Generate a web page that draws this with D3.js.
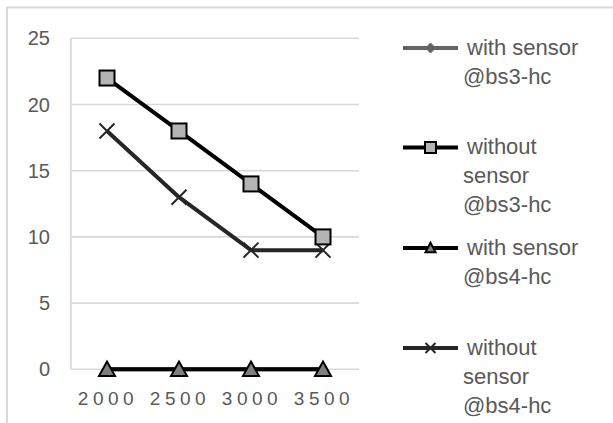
<!DOCTYPE html>
<html>
<head>
<meta charset="utf-8">
<script src="https://cdn.jsdelivr.net/npm/d3@7"></script>
<style>
  html, body { margin: 0; padding: 0; background: #fff; }
  svg { display: block; font-family: "Liberation Sans", Arial, sans-serif; }
</style>
</head>
<body>
<svg id="chart" width="613" height="423"></svg>
<script>
// Categories and series values
const categories = ["2000", "2500", "3000", "3500"];
const withSensorBs3 = [0, 0, 0, 0];
const withoutSensorBs3 = [22, 18, 14, 10];
const withSensorBs4 = [0, 0, 0, 0];
const withoutSensorBs4 = [18, 13, 9, 9];
const yTicks = [0, 5, 10, 15, 20, 25];

const seriesNames = [
  ["with sensor", "@bs3-hc"],
  ["without", "sensor", "@bs3-hc"],
  ["with sensor", "@bs4-hc"],
  ["without", "sensor", "@bs4-hc"]
];

const series = [
  { lines: seriesNames[0], values: withSensorBs3, color: "#636363", width: 4, marker: "diamond", fill: "#636363" },
  { lines: seriesNames[1], values: withoutSensorBs3, color: "#000000", width: 4, marker: "square", fill: "#b4b4b4" },
  { lines: seriesNames[2], values: withSensorBs4, color: "#000000", width: 4, marker: "triangle", fill: "#808080" },
  { lines: seriesNames[3], values: withoutSensorBs4, color: "#262626", width: 4, marker: "cross", fill: "none" }
];

const svg = d3.select("#chart");

// chart area border (top and left edges visible)
svg.append("path")
  .attr("d", "M7,423 V7.5 H613")
  .attr("fill", "none")
  .attr("stroke", "#d9d9d9")
  .attr("stroke-width", 2);

const plot = { left: 71, right: 359, top: 38.3, bottom: 369.3 };

const x = d3.scaleBand().domain(categories).range([plot.left, plot.right]);
const y = d3.scaleLinear().domain([0, 25]).range([plot.bottom, plot.top]);
const cx = c => x(c) + x.bandwidth() / 2;

// horizontal gridlines
svg.append("g").selectAll("line").data(yTicks).join("line")
  .attr("x1", plot.left).attr("x2", plot.right)
  .attr("y1", d => y(d)).attr("y2", d => y(d))
  .attr("stroke", "#d9d9d9").attr("stroke-width", 1.6);

// vertical axis line
svg.append("line")
  .attr("x1", plot.left).attr("x2", plot.left)
  .attr("y1", y(25)).attr("y2", y(0))
  .attr("stroke", "#d9d9d9").attr("stroke-width", 1.6);

// y tick labels
svg.append("g").selectAll("text").data(yTicks).join("text")
  .attr("x", 50).attr("y", d => y(d) + 7)
  .attr("text-anchor", "end")
  .attr("font-size", 20)
  .attr("fill", "#595959")
  .text(d => d);

// x tick labels
svg.append("g").selectAll("text").data(categories).join("text")
  .attr("x", d => cx(d) + 1).attr("y", 405)
  .attr("text-anchor", "middle")
  .attr("font-size", 19)
  .attr("letter-spacing", 4.5)
  .attr("fill", "#595959")
  .text(d => d);

// marker shapes
function drawMarker(g, type, px, py, s, fill, color) {
  if (type === "square") {
    g.append("rect").attr("x", px - s / 2).attr("y", py - s / 2)
      .attr("width", s).attr("height", s)
      .attr("fill", fill).attr("stroke", "#000").attr("stroke-width", 2);
  } else if (type === "triangle") {
    const h = s * 0.85;
    g.append("path")
      .attr("d", `M${px},${py - h / 2 - 1} L${px + s / 2},${py + h / 2} L${px - s / 2},${py + h / 2} Z`)
      .attr("fill", fill).attr("stroke", "#000").attr("stroke-width", 2).attr("stroke-linejoin", "miter");
  } else if (type === "diamond") {
    g.append("path")
      .attr("d", `M${px},${py - s / 2} L${px + s / 2},${py} L${px},${py + s / 2} L${px - s / 2},${py} Z`)
      .attr("fill", fill).attr("stroke", color).attr("stroke-width", 1);
  } else if (type === "cross") {
    const r = s / 2;
    g.append("path")
      .attr("d", `M${px - r},${py - r} L${px + r},${py + r} M${px - r},${py + r} L${px + r},${py - r}`)
      .attr("stroke", color).attr("stroke-width", 2).attr("fill", "none");
  }
}

const lineGen = d3.line().x((d, i) => cx(categories[i])).y(d => y(d));

// series lines
const linesG = svg.append("g");
series.forEach(s => {
  linesG.append("path")
    .datum(s.values)
    .attr("d", lineGen)
    .attr("fill", "none")
    .attr("stroke", s.color)
    .attr("stroke-width", s.width)
    .attr("stroke-linejoin", "round");
});

// series markers (cross first so squares sit above it)
const markersG = svg.append("g");
const markerOrder = [0, 3, 2, 1];
const markerSize = { square: 15, triangle: 16, diamond: 9, cross: 15 };
markerOrder.forEach(k => {
  const s = series[k];
  s.values.forEach((v, i) => {
    drawMarker(markersG, s.marker, cx(categories[i]), y(v), markerSize[s.marker], s.fill, s.color);
  });
});

// legend
const legendY = [48, 147.5, 248, 348];
const legendG = svg.append("g");
series.forEach((s, k) => {
  const ly = legendY[k];
  legendG.append("line")
    .attr("x1", 403).attr("x2", 458)
    .attr("y1", ly).attr("y2", ly)
    .attr("stroke", s.color).attr("stroke-width", s.width);
  const lsize = { square: 11, triangle: 10, diamond: 10, cross: 10 }[s.marker];
  drawMarker(legendG, s.marker, 430.5, ly, lsize, s.fill, s.color);
  s.lines.forEach((t, j) => {
    legendG.append("text")
      .attr("x", j === 0 ? 467 : 463)
      .attr("y", ly + 6.5 + j * 29)
      .attr("font-size", 22)
      .attr("fill", "#595959")
      .text(t);
  });
});
</script>
</body>
</html>
